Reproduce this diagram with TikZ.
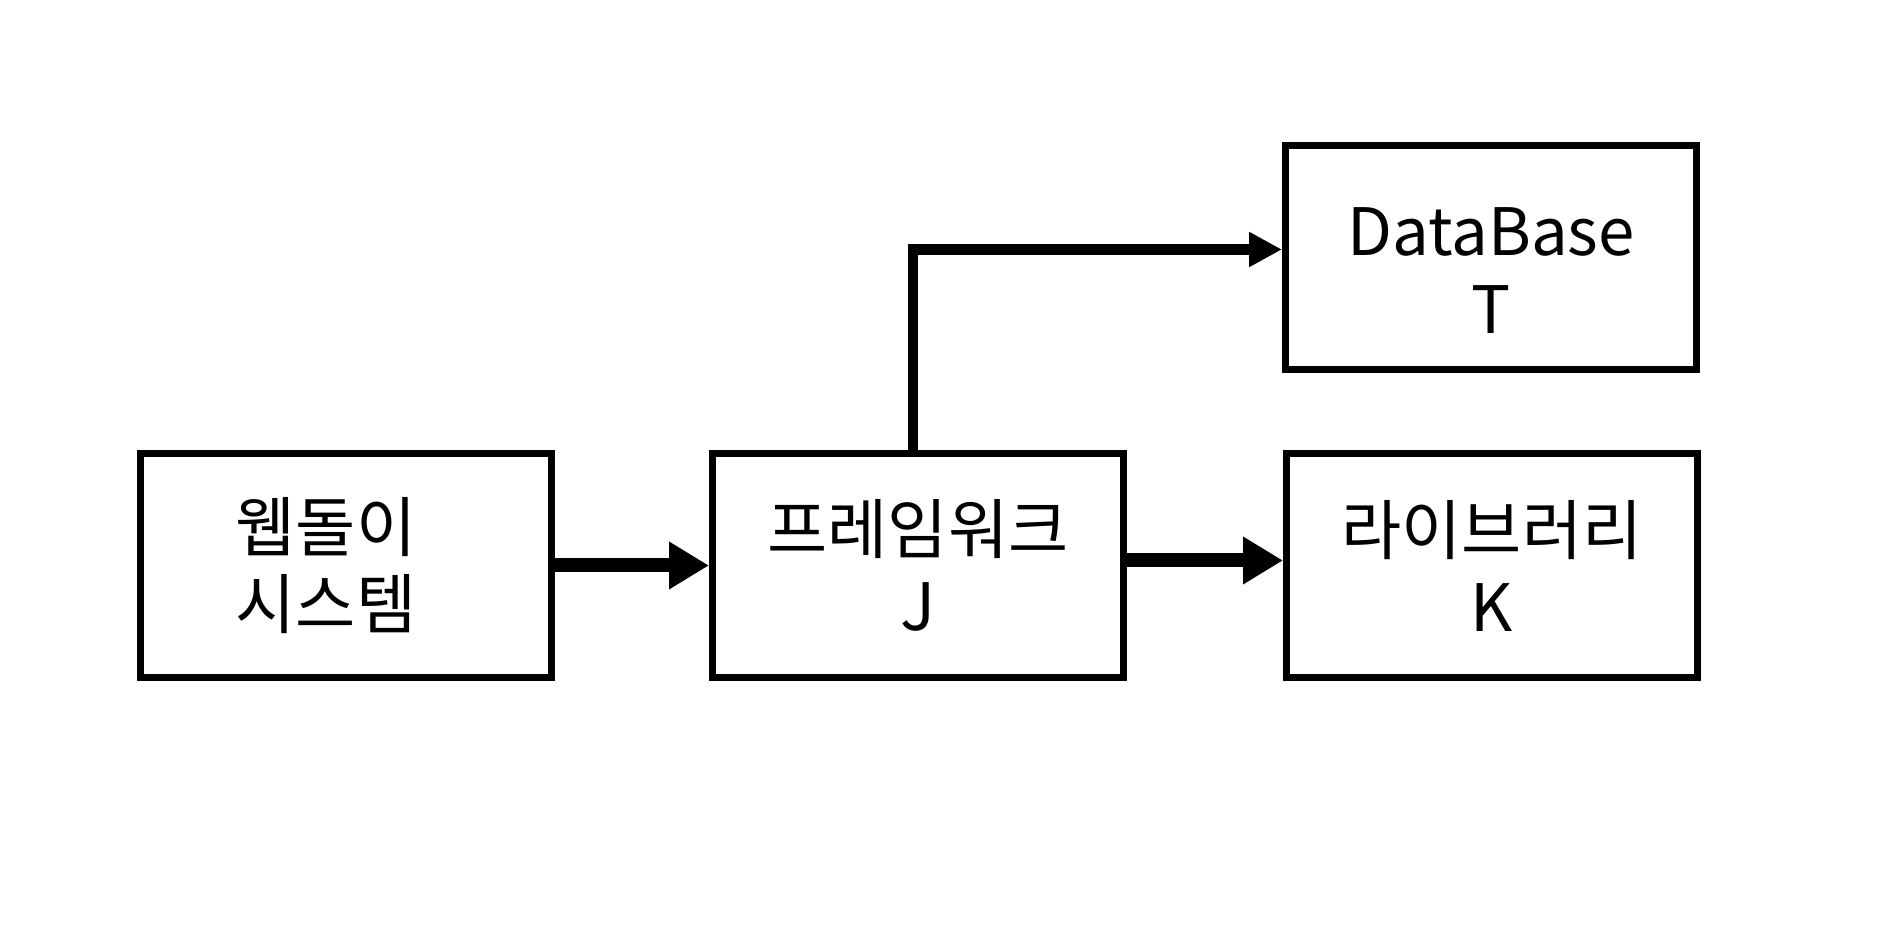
\documentclass[tikz,border=0pt]{standalone}
\usepackage{fontspec}
\setmainfont{Noto Sans CJK KR}
\usetikzlibrary{arrows.meta}
\tikzset{
  blk/.style={draw, line width=0.07cm, minimum width=4.11cm, minimum height=2.24cm,
    align=center, inner sep=0pt, font=\fontsize{18.6}{22}\selectfont},
  flow/.style={line width=0.14cm, -{Triangle[length=0.4cm, width=0.45cm]}},
  flowup/.style={line width=0.105cm, -{Triangle[length=0.33cm, width=0.33cm]}}
}
\begin{document}
\begin{tikzpicture}
      \useasboundingbox (0, 0) rectangle (18.78, 9.41);
      \node[blk] (web) at (3.46, 3.755){웹돌이\hspace*{0.4cm}\\시스템\hspace*{0.4cm}};
      \node[blk] (fw) at (9.18, 3.755){프레임워크\\J};
      \node[blk] (db) at (14.91, 6.835){\rule{0pt}{0.74cm}DataBase\\T};
      \node[blk] (lib) at (14.92, 3.75){라이브러리\\K};

      \draw[flow](web.east) to (fw.west);
      \draw[flow]([yshift=0.05cm]fw.east) to ([yshift=0.05cm]fw.east -| lib.west);
      \draw[flowup]([xshift=-0.05cm]fw.north) |- ([yshift=0.08cm]db.west);
    \end{tikzpicture}
\end{document}
